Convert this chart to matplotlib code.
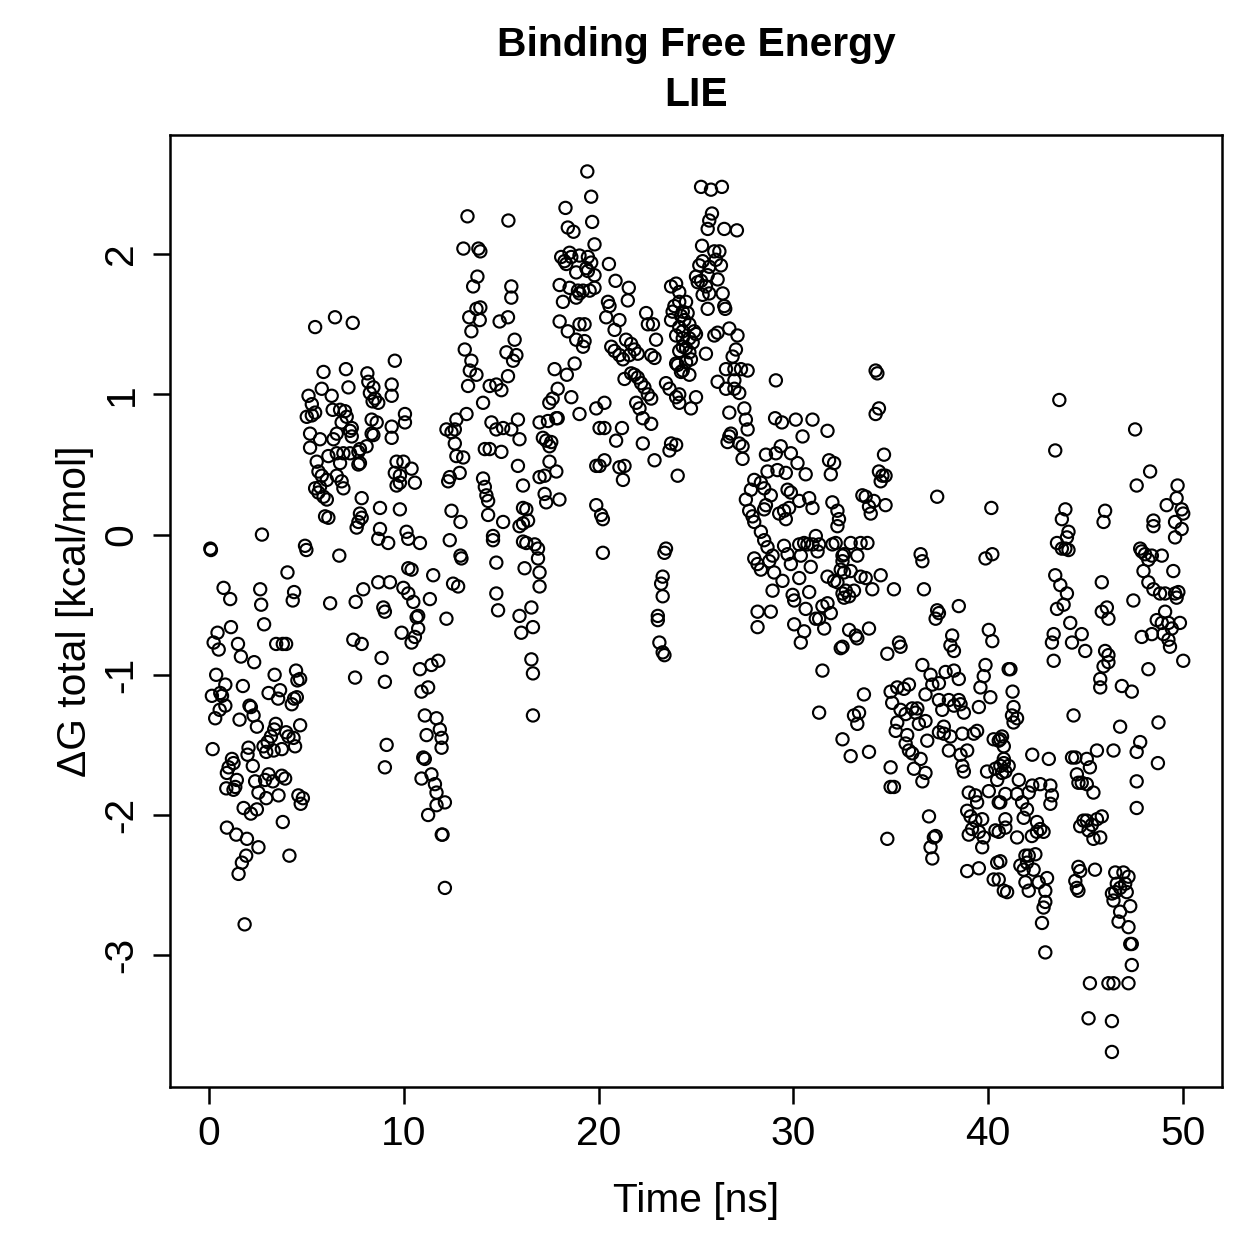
import matplotlib
matplotlib.use("Agg")
import matplotlib.pyplot as plt

# ---- data: (time [ns], dG total [kcal/mol]) ----
seg_00_05 = [
    (0.07,-0.10),(0.10,-0.11),(2.72,0.00),(4.93,-0.08),(5.00,-0.11),(0.75,-0.38),(1.09,-0.46),
    (2.63,-0.39),(2.68,-0.50),(4.37,-0.41),(4.30,-0.47),(4.03,-0.27),(1.13,-0.66),(0.44,-0.70),
    (0.24,-0.77),(0.50,-0.82),(1.49,-0.78),(1.64,-0.87),(2.32,-0.91),(2.83,-0.64),(3.45,-0.78),
    (3.79,-0.78),(3.96,-0.78),(0.37,-1.00),(0.84,-1.07),(0.58,-1.13),(0.15,-1.15),(0.67,-1.15),
    (1.74,-1.08),(0.84,-1.22),(0.55,-1.25),(0.32,-1.31),(2.08,-1.22),(2.15,-1.23),(2.29,-1.29),
    (2.46,-1.37),(1.57,-1.32),(3.37,-1.00),(3.06,-1.13),(3.65,-1.11),(3.55,-1.17),(4.47,-0.97),
    (4.68,-1.03),(4.54,-1.04),(4.37,-1.17),(4.25,-1.21),(4.51,-1.16),(3.43,-1.35),(3.35,-1.39),
    (3.18,-1.44),(3.01,-1.48),(2.80,-1.51),(2.94,-1.55),(3.32,-1.54),(3.74,-1.53),(3.96,-1.41),
    (4.08,-1.44),(4.34,-1.45),(4.68,-1.36),(4.42,-1.51),(0.19,-1.53),(2.03,-1.52),(1.98,-1.57),
    (2.25,-1.65),(1.18,-1.60),(1.26,-1.63),(1.01,-1.66),(0.92,-1.70),(1.43,-1.75),(0.89,-1.81),
    (1.26,-1.82),(1.35,-1.80),(2.37,-1.76),(2.88,-1.75),(3.06,-1.71),(3.28,-1.76),(3.74,-1.72),
    (3.91,-1.74),(2.54,-1.84),(2.94,-1.88),(3.57,-1.86),(4.59,-1.86),(4.82,-1.88),(4.71,-1.92),
    (1.78,-1.95),(2.15,-1.99),(2.46,-1.96),(3.79,-2.05),(0.92,-2.09),(1.40,-2.14),(1.95,-2.17),
    (2.54,-2.23),(1.91,-2.29),(1.69,-2.34),(1.52,-2.42),(4.13,-2.29),(1.83,-2.78),
]

seg_05_09 = [
    (6.22,-0.49),(6.69,-0.15),(7.53,-0.48),(7.92,-0.39),(7.41,-0.75),(7.84,-0.78),(7.50,-1.02),
    (7.58,0.05),(5.45,1.48),(6.47,1.55),(7.38,1.51),(5.88,1.16),(7.03,1.18),(8.13,1.15),
    (5.79,1.04),(6.30,0.99),(7.16,1.05),(8.18,1.09),(8.44,1.05),(8.26,1.01),(8.52,0.97),
    (8.69,0.94),(8.40,0.95),(5.11,0.99),(5.28,0.93),(5.02,0.84),(5.28,0.85),(5.45,0.87),
    (6.35,0.89),(6.73,0.89),(6.98,0.88),(7.07,0.84),(6.81,0.80),(7.24,0.74),(7.33,0.76),
    (8.35,0.82),(8.61,0.80),(5.19,0.72),(5.70,0.68),(5.19,0.62),(6.56,0.72),(6.39,0.68),
    (7.33,0.70),(8.44,0.71),(8.09,0.63),(7.67,0.59),(7.24,0.58),(6.90,0.58),(6.56,0.58),
    (6.13,0.56),(6.73,0.51),(7.67,0.50),(5.53,0.52),(5.62,0.45),(5.79,0.42),(6.05,0.39),
    (6.56,0.42),(6.81,0.38),(6.90,0.33),(5.45,0.33),(5.62,0.30),(5.88,0.27),(6.05,0.25),
    (5.70,0.34),(7.84,0.26),(8.78,0.19),(7.75,0.15),(7.84,0.12),(7.67,0.09),(5.96,0.13),
    (6.13,0.12),
]

seg_08_16 = [
    (13.56,1.77),(15.52,1.77),(13.73,1.61),(13.93,1.62),(13.90,1.53),(13.36,1.55),(13.47,1.45),
    (13.13,1.32),(13.47,1.24),(13.39,1.17),(13.73,1.14),(13.30,1.06),(15.52,1.69),(15.35,1.55),
    (14.92,1.52),(15.69,1.39),(15.27,1.30),(15.78,1.28),(15.61,1.24),(15.35,1.13),(14.75,1.07),
    (14.41,1.06),(15.01,1.03),(14.07,0.94),(13.22,0.86),(12.70,0.82),(12.19,0.75),(12.62,0.75),
    (12.45,0.73),(12.62,0.65),(12.70,0.56),(13.05,0.55),(12.87,0.44),(12.36,0.41),(12.28,0.38),
    (14.50,0.80),(14.75,0.75),(15.10,0.76),(15.52,0.75),(15.86,0.82),(15.94,0.68),(14.16,0.61),
    (14.41,0.61),(15.01,0.59),(15.86,0.49),(16.12,0.35),(14.07,0.40),(14.16,0.34),(14.24,0.28),
    (14.33,0.24),(14.33,0.14),(15.10,0.09),(15.94,0.06),(16.12,0.19),(16.12,-0.05),(16.20,-0.24),
    (14.58,-0.01),(14.58,-0.04),(14.75,-0.20),(14.75,-0.42),(14.84,-0.54),(15.94,-0.58),
    (16.03,-0.70),(12.45,0.17),(12.91,0.09),(12.36,-0.04),(12.91,-0.15),(12.96,-0.17),
    (12.53,-0.35),(12.79,-0.37),(12.19,-0.60),(13.27,2.27),(13.06,2.04),(13.83,2.04),
    (13.93,2.02),(15.37,2.24),(13.78,1.84),
    (9.54,1.24),(9.38,1.07),(9.38,0.99),(10.06,0.86),(10.06,0.80),(9.38,0.77),(9.38,0.69),
    (8.35,0.72),(7.75,0.61),(7.75,0.51),(9.63,0.52),(9.98,0.52),(9.54,0.44),(9.80,0.42),
    (10.40,0.47),(9.63,0.35),(9.80,0.37),(10.57,0.37),(9.80,0.18),(8.78,0.04),(8.69,-0.03),
    (9.20,-0.06),(10.14,0.02),(10.23,-0.03),(10.83,-0.06),(10.23,-0.24),(10.40,-0.25),
    (11.51,-0.29),(11.34,-0.46),(10.74,-0.58),(10.74,-0.67),(10.57,-0.73),(10.40,-0.77),
    (9.89,-0.70),(8.86,-0.88),(9.03,-1.05),(8.69,-0.34),(9.29,-0.34),(9.98,-0.38),(10.23,-0.42),
    (10.49,-0.48),(8.95,-0.52),(9.03,-0.55),(10.66,-0.59),(10.83,-0.96),(11.42,-0.93),
    (11.77,-0.90),(10.91,-1.12),(11.25,-1.09),(11.08,-1.29),(11.68,-1.31),(11.85,-1.39),
    (11.17,-1.43),(11.94,-1.45),(11.94,-1.52),(11.00,-1.59),(11.08,-1.60),(10.91,-1.74),
    (11.42,-1.71),(11.60,-1.78),(11.68,-1.84),(12.11,-1.91),(11.68,-1.93),(11.25,-2.00),
    (11.99,-2.14),(11.95,-2.14),(12.11,-2.52),(9.12,-1.50),(9.03,-1.66),
]

seg_16_24 = [
    (19.42,2.59),(19.62,2.41),(18.30,2.33),(19.67,2.23),(18.42,2.19),(18.71,2.16),(19.79,2.07),
    (18.08,1.98),(18.25,1.95),(18.51,2.01),(18.60,1.98),(19.02,1.99),(19.45,1.98),(19.62,1.94),
    (18.34,1.93),(18.85,1.87),(19.37,1.90),(19.79,1.85),(19.45,1.88),(20.53,1.93),(18.00,1.78),
    (18.51,1.76),(18.94,1.74),(19.20,1.74),(19.54,1.74),(19.79,1.76),(18.85,1.69),(19.02,1.72),
    (20.87,1.81),(21.55,1.76),(21.50,1.67),(18.17,1.66),(20.48,1.66),(20.56,1.63),(20.39,1.55),
    (23.72,1.77),(24.14,1.73),(23.89,1.63),(24.32,1.59),(23.80,1.59),(18.00,1.52),(18.42,1.45),
    (19.02,1.50),(19.28,1.50),(18.85,1.39),(19.28,1.38),(19.20,1.34),(21.07,1.53),(20.82,1.46),
    (22.44,1.58),(22.53,1.50),(22.79,1.50),(22.95,1.39),(22.70,1.28),(22.87,1.26),(23.72,1.53),
    (24.14,1.48),(23.98,1.42),(24.32,1.34),(24.06,1.21),(24.32,1.17),(20.65,1.34),(20.82,1.31),
    (21.07,1.28),(21.25,1.25),(21.41,1.39),(21.67,1.36),(21.84,1.32),(22.01,1.29),(21.58,1.28),
    (21.33,1.11),(21.67,1.15),(21.84,1.14),(22.01,1.12),(22.18,1.08),(22.35,1.05),(22.53,1.00),
    (22.70,0.97),(21.93,0.94),(22.10,0.90),(22.27,0.83),(22.70,0.79),(17.74,1.18),(18.37,1.14),
    (17.90,1.04),(17.64,0.97),(17.47,0.94),(18.60,0.98),(19.02,0.86),(17.90,0.83),(19.88,0.90),
    (20.30,0.94),(20.05,0.76),(20.30,0.76),(20.90,0.67),(21.20,0.76),(16.97,0.80),(17.40,0.81),
    (17.83,0.83),(17.14,0.69),(17.31,0.67),(17.57,0.66),(17.48,0.63),(17.48,0.52),(17.83,0.45),
    (17.23,0.42),(16.97,0.41),(17.23,0.29),(17.31,0.23),(17.99,0.25),(19.88,0.49),(20.05,0.49),
    (20.30,0.53),(21.07,0.48),(21.33,0.49),(21.25,0.39),(22.27,0.65),(22.87,0.53),(23.72,0.65),
    (23.64,0.60),(24.06,0.42),(19.88,0.21),(20.13,0.14),(20.22,0.11),(20.22,-0.13),(16.29,0.18),
    (16.38,0.10),(16.12,0.08),(16.72,-0.07),(16.89,-0.10),(16.29,-0.06),(16.89,-0.17),
    (16.97,-0.27),(16.97,-0.37),(16.55,-0.52),(16.63,-0.66),(16.55,-0.89),(16.63,-0.99),
    (16.63,-1.29),(23.46,-0.10),(23.38,-0.13),(23.29,-0.30),(23.21,-0.35),(23.29,-0.44),
    (23.04,-0.58),(23.04,-0.61),(23.12,-0.77),(23.29,-0.84),(23.38,-0.86),(18.77,1.22),
    (23.46,1.08),(23.64,1.04),(23.98,0.98),(24.14,0.94),
]

seg_24_33 = [
    (25.26,2.48),(25.77,2.46),(26.33,2.48),(25.82,2.29),(25.68,2.24),(25.60,2.18),(26.45,2.18),
    (27.10,2.17),(25.31,2.06),(25.94,2.02),(26.20,2.02),(25.17,1.92),(25.34,1.95),(25.68,1.91),
    (26.02,1.96),(26.28,1.92),(25.00,1.84),(25.09,1.80),(25.26,1.81),(25.60,1.85),(26.11,1.82),
    (25.51,1.77),(25.34,1.71),(25.68,1.72),(26.37,1.72),(26.45,1.63),(26.50,1.61),(25.60,1.61),
    (23.98,1.79),(24.14,1.66),(24.49,1.66),(24.23,1.56),(24.57,1.58),(24.40,1.53),(24.66,1.50),
    (24.32,1.45),(24.91,1.45),(25.00,1.43),(24.66,1.40),(24.32,1.40),(24.83,1.37),(24.49,1.33),
    (24.14,1.31),(24.66,1.30),(24.74,1.25),(24.49,1.23),(23.98,1.22),(24.23,1.16),(24.66,1.14),
    (24.14,1.00),(25.00,0.98),(24.74,0.90),(25.51,1.29),(26.11,1.44),(25.94,1.42),(26.71,1.47),
    (27.13,1.42),(27.05,1.32),(26.88,1.27),(26.54,1.18),(26.97,1.18),(27.31,1.18),(27.65,1.17),
    (26.97,1.10),(26.11,1.09),(26.54,1.04),(26.97,1.04),(27.22,1.01),(26.71,0.87),(27.48,0.90),
    (27.56,0.82),(27.65,0.75),(26.79,0.72),(26.71,0.70),(29.10,1.10),(29.06,0.83),(29.41,0.80),
    (30.12,0.82),(30.98,0.82),(31.75,0.74),(30.47,0.70),(26.62,0.66),(27.22,0.65),(27.39,0.63),
    (27.39,0.54),(23.98,0.64),(28.59,0.57),(29.10,0.58),(29.35,0.63),(29.87,0.58),(30.21,0.51),
    (28.67,0.45),(29.18,0.46),(29.61,0.44),(30.63,0.43),(31.83,0.53),(32.09,0.51),(31.92,0.43),
    (27.99,0.39),(27.82,0.32),(28.33,0.37),(28.50,0.33),(28.84,0.28),(27.56,0.25),(27.73,0.17),
    (27.90,0.13),(27.99,0.09),(28.50,0.18),(28.59,0.21),(29.70,0.32),(29.87,0.30),(30.30,0.24),
    (30.81,0.26),(30.98,0.19),(29.27,0.15),(29.52,0.17),(29.61,0.11),(29.78,0.19),(32.00,0.23),
    (32.26,0.17),(32.34,0.11),(32.26,0.06),(32.17,-0.06),(28.33,0.02),(28.50,-0.04),(28.67,-0.09),
    (28.93,-0.15),(27.99,-0.17),(28.16,-0.21),(28.33,-0.25),(29.01,-0.27),(29.44,-0.33),
    (28.93,-0.40),(28.76,-0.19),(29.52,-0.08),(29.70,-0.14),(29.87,-0.21),(30.30,-0.07),
    (30.55,-0.06),(30.72,-0.07),(30.98,-0.07),(31.15,-0.01),(31.32,-0.07),(30.38,-0.15),
    (30.89,-0.23),(31.24,-0.12),(32.00,-0.07),(32.52,-0.15),(32.60,-0.27),(30.30,-0.31),
    (30.81,-0.41),(29.96,-0.43),(30.04,-0.47),(30.63,-0.53),(31.49,-0.51),(31.75,-0.49),
    (31.92,-0.56),(31.15,-0.60),(31.32,-0.60),(31.58,-0.67),(30.04,-0.64),(30.55,-0.69),
    (30.38,-0.77),(28.16,-0.55),(28.84,-0.55),(28.16,-0.66),(31.49,-0.97),(31.32,-1.27),
    (31.75,-0.30),(32.09,-0.33),(32.43,-0.25),(32.52,-0.42),(32.60,-0.45),(32.43,-0.81),
]

seg_32_41 = [
    (34.22,1.17),(34.31,1.15),(34.39,0.90),(34.22,0.86),(34.65,0.57),(34.39,0.45),(34.57,0.42),
    (34.73,0.42),(34.48,0.38),(33.54,0.28),(33.71,0.27),(34.13,0.24),(33.88,0.20),(33.97,0.15),
    (34.73,0.21),(37.38,0.27),(40.16,0.19),(32.94,-0.06),(33.45,-0.06),(33.80,-0.06),(32.60,-0.14),
    (33.28,-0.15),(32.52,-0.19),(32.94,-0.26),(33.45,-0.30),(33.71,-0.31),(34.48,-0.29),
    (32.26,-0.34),(32.69,-0.40),(32.86,-0.44),(33.11,-0.40),(34.05,-0.39),(35.16,-0.39),
    (36.70,-0.39),(36.53,-0.14),(36.62,-0.19),(39.86,-0.17),(40.21,-0.14),(37.38,-0.54),
    (37.47,-0.56),(38.49,-0.51),(37.30,-0.60),(40.03,-0.68),(40.21,-0.76),(33.88,-0.67),
    (32.86,-0.68),(33.20,-0.72),(33.28,-0.74),(32.52,-0.80),(34.82,-0.85),(35.42,-0.77),
    (35.50,-0.80),(38.15,-0.72),(38.06,-0.79),(38.24,-0.83),(36.62,-0.93),(37.04,-1.00),
    (37.81,-0.98),(38.24,-0.97),(38.49,-1.03),(37.13,-1.07),(37.47,-1.06),(39.86,-0.93),
    (39.77,-1.01),(39.60,-1.09),(40.11,-1.16),(36.78,-1.14),(34.99,-1.12),(35.33,-1.09),
    (35.67,-1.10),(35.93,-1.07),(35.07,-1.20),(35.50,-1.25),(36.10,-1.24),(36.27,-1.27),
    (36.36,-1.24),(35.76,-1.28),(35.33,-1.34),(35.25,-1.40),(36.44,-1.35),(36.78,-1.33),
    (36.87,-1.47),(35.84,-1.43),(35.76,-1.49),(35.93,-1.54),(36.10,-1.56),(36.53,-1.60),
    (36.19,-1.67),(36.78,-1.70),(36.62,-1.76),(34.99,-1.66),(34.99,-1.80),(35.16,-1.80),
    (33.62,-1.14),(33.37,-1.27),(33.11,-1.29),(33.28,-1.35),(32.52,-1.46),(32.94,-1.58),
    (33.88,-1.55),(34.82,-2.17),(36.96,-2.01),(37.21,-2.16),(37.04,-2.23),(37.13,-2.31),
    (37.30,-2.15),(37.47,-1.18),(37.64,-1.25),(37.98,-1.18),(38.24,-1.22),(38.49,-1.18),
    (38.58,-1.21),(38.75,-1.27),(37.72,-1.37),(38.06,-1.44),(37.98,-1.54),(38.58,-1.57),
    (38.67,-1.65),(38.75,-1.69),(38.92,-1.54),(39.26,-1.42),(39.43,-1.40),(38.67,-1.42),
    (37.47,-1.41),(37.72,-1.42),(39.52,-1.23),(40.28,-1.46),(40.54,-1.47),(40.71,-1.44),
    (40.80,-1.51),(40.37,-1.67),(39.94,-1.69),(40.71,-1.70),(40.80,-1.63),(40.03,-1.83),
    (40.54,-1.91),(40.88,-2.03),(39.00,-1.84),(39.34,-1.86),(39.43,-1.91),(38.92,-1.97),
    (39.09,-2.01),(39.34,-2.04),(39.69,-2.03),(39.17,-2.10),(39.52,-2.12),(39.77,-2.16),
    (39.69,-2.23),(39.00,-2.14),(40.54,-2.12),(40.37,-2.11),(40.46,-2.34),(40.28,-2.46),
    (38.92,-2.40),(39.52,-2.38),(40.80,-2.54),
]

seg_40_50 = [
    (43.65,0.96),(47.54,0.75),(43.44,0.60),(48.31,0.45),(47.62,0.35),(49.72,0.35),(49.16,0.21),
    (49.67,0.26),(49.93,0.18),(50.01,0.15),(43.96,0.18),(43.78,0.11),(44.12,0.02),(44.04,-0.02),
    (43.53,-0.06),(43.78,-0.10),(43.96,-0.10),(44.12,-0.11),(46.00,0.17),(45.92,0.09),
    (48.48,0.10),(48.48,0.06),(49.59,0.09),(49.93,0.04),(49.59,-0.02),(47.80,-0.10),
    (47.88,-0.12),(48.05,-0.14),(48.22,-0.18),(48.40,-0.15),(48.91,-0.15),(47.97,-0.26),
    (48.22,-0.34),(48.48,-0.39),(48.82,-0.42),(49.08,-0.42),(49.50,-0.26),(49.59,-0.42),
    (49.76,-0.41),(49.67,-0.45),(49.08,-0.55),(48.65,-0.61),(48.91,-0.63),(49.25,-0.63),
    (49.84,-0.63),(48.40,-0.71),(49.00,-0.71),(49.25,-0.75),(49.33,-0.80),(50.01,-0.90),
    (49.42,-0.67),(47.45,-0.47),(47.88,-0.73),(48.22,-0.96),(48.74,-1.34),(48.71,-1.63),
    (43.44,-0.29),(43.70,-0.36),(44.04,-0.42),(43.53,-0.53),(43.87,-0.50),(44.21,-0.63),
    (44.80,-0.71),(44.98,-0.83),(44.30,-0.77),(43.36,-0.71),(43.27,-0.77),(43.36,-0.90),
    (45.83,-0.34),(45.83,-0.55),(46.00,-0.83),(46.17,-0.86),(46.17,-0.91),(45.75,-1.03),
    (45.75,-1.09),(46.86,-1.08),(47.37,-1.12),(46.09,-0.52),(46.17,-0.60),(44.38,-1.29),
    (46.77,-1.37),(47.80,-1.48),(46.43,-1.54),(45.58,-1.54),(44.30,-1.59),(44.55,-1.71),
    (45.40,-1.84),(44.63,-1.77),(45.06,-2.04),(45.58,-2.03),(45.83,-2.01),(45.75,-2.16),
    (45.92,-0.94),(41.14,-0.96),(41.05,-0.96),(41.25,-1.12),(41.30,-1.23),(41.22,-1.29),
    (41.48,-1.31),(41.30,-1.34),(40.62,-1.46),(40.80,-1.60),(40.62,-1.65),(41.05,-1.65),
    (40.88,-1.69),(40.46,-1.75),(41.57,-1.75),(42.26,-1.57),(43.11,-1.60),(44.47,-1.59),
    (45.06,-1.60),(45.22,-1.66),(44.80,-1.77),(45.06,-1.78),(42.26,-1.79),(42.67,-1.78),
    (43.19,-1.79),(43.27,-1.86),(43.19,-1.92),(42.08,-1.84),(41.74,-1.91),(40.88,-1.85),
    (41.48,-1.85),(40.62,-1.91),(41.99,-1.96),(41.82,-2.02),(42.50,-2.05),(42.50,-2.12),
    (42.67,-2.10),(42.84,-2.12),(42.24,-2.15),(41.48,-2.16),(40.88,-2.09),(44.89,-2.04),
    (44.72,-2.08),(45.15,-2.11),(45.32,-2.07),(45.40,-2.17),(41.91,-2.29),(42.08,-2.29),
    (42.42,-2.28),(41.65,-2.36),(41.99,-2.34),(41.82,-2.39),(42.33,-2.39),(43.02,-2.45),
    (41.91,-2.48),(42.08,-2.54),(42.59,-2.48),(42.93,-2.54),(42.93,-2.62),(42.84,-2.66),
    (42.76,-2.77),(40.97,-2.55),(40.54,-2.46),(40.62,-2.33),(44.63,-2.37),(44.72,-2.40),
    (45.48,-2.39),(44.47,-2.47),(44.55,-2.52),(44.63,-2.54),(46.35,-2.56),(46.52,-2.55),
    (46.77,-2.52),(47.11,-2.55),(47.29,-2.65),(47.20,-2.80),(47.29,-2.92),(47.37,-2.92),
    (47.37,-3.07),(46.43,-2.61),(46.69,-2.76),(46.94,-2.41),(47.03,-2.49),(46.52,-2.41),
    (46.60,-2.49),(46.77,-2.69),(47.20,-2.44),(45.22,-3.20),(46.17,-3.20),(46.43,-3.20),
    (47.20,-3.20),(45.15,-3.45),(46.35,-3.47),(46.35,-3.69),(42.93,-2.98),(47.62,-1.55),
    (47.62,-1.76),(47.62,-1.95),
]

segments = [seg_00_05, seg_05_09, seg_08_16, seg_16_24, seg_24_33, seg_32_41, seg_40_50]
time_ns = [p[0] for s in segments for p in s]
dg_total = [p[1] for s in segments for p in s]

x_ticks = [0, 10, 20, 30, 40, 50]
y_ticks = [-3, -2, -1, 0, 1, 2]

title_lines = ["Binding Free Energy", "LIE"]
x_label = "Time [ns]"
y_label = "ΔG total [kcal/mol]"

# ---- figure ----
plt.rcParams['font.family'] = ['Liberation Sans', 'DejaVu Sans']
W = 1259
DPI = 180
fig = plt.figure(figsize=(W / DPI, W / DPI), dpi=DPI)
L, R, T, B = 170, 1222, 135, 1087
ax = fig.add_axes([L / W, 1 - B / W, (R - L) / W, (B - T) / W])

ax.scatter(time_ns, dg_total, s=24, facecolors='none', edgecolors='black',
           linewidths=0.85, zorder=3)

ax.set_xlim(-2, 52)
ax.set_ylim(-3.94, 2.85)
ax.set_xticks(x_ticks)
ax.set_yticks(y_ticks)
ax.set_xticklabels([str(v) for v in x_ticks])
ax.set_yticklabels([str(v) for v in y_ticks], rotation=90, va='center')
ax.tick_params(axis='both', direction='out', length=6.8, width=1.0,
               labelsize=16.3, color='black')
ax.tick_params(axis='x', pad=4.5)
ax.tick_params(axis='y', pad=5)
for sp in ax.spines.values():
    sp.set_linewidth(1.0)
    sp.set_color('black')

fig.text((L + R) / 2 / W, 1 - 45 / W, title_lines[0], ha='center', va='center',
         fontsize=16.3, fontweight='bold')
fig.text((L + R) / 2 / W, 1 - 95 / W, title_lines[1], ha='center', va='center',
         fontsize=16.3, fontweight='bold')
fig.text((L + R) / 2 / W, 1 - 1201 / W, x_label, ha='center', va='center', fontsize=16.3)
fig.text(75 / W, 1 - 611 / W, y_label, ha='center', va='center', rotation=90,
         fontsize=16.3)

fig.savefig("out.png", dpi=DPI, facecolor='white')
